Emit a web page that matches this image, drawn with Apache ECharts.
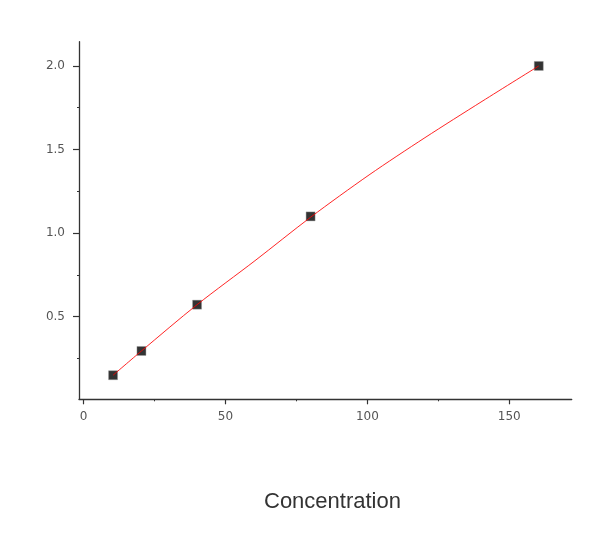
<!DOCTYPE html>
<html>
<head>
<meta charset="utf-8">
<script src="https://cdn.jsdelivr.net/npm/echarts@6/dist/echarts.min.js"></script>
<style>html,body{margin:0;padding:0;background:#fff}#c{width:600px;height:534px}</style>
</head>
<body>
<div id="c"></div>
<script>
// measured standards
var concX = [10.4, 20.4, 40, 80, 160.4];
var absY = [0.15, 0.295, 0.572, 1.10, 2.0];
// fitted curve
var fitX = [10.4, 20.4, 40, 60.4, 80, 100.6, 120.3, 140.4, 160.4];
var fitY = [0.15, 0.295, 0.572, 0.835, 1.095, 1.348, 1.571, 1.788, 2.0];
var xTicks = [0, 50, 100, 150];
var xMinor = [25, 75, 125];
var yTicks = [0.5, 1.0, 1.5, 2.0];
var yMinor = [0.25, 0.75, 1.25, 1.75];
var xName = 'Concentration';

var pts = concX.map(function (x, i) { return [x, absY[i]]; });
var fit = fitX.map(function (x, i) { return [x, fitY[i]]; });
var axisColor = '#333';
var labelStyle = { color: '#555', fontFamily: 'DejaVu Sans', fontSize: 12 };

var chart = echarts.init(document.getElementById('c'), null, { renderer: 'canvas' });
chart.setOption({
  animation: false,
  backgroundColor: '#fff',
  grid: { left: 79, right: 28.3, top: 41.7, bottom: 134.7 },
  xAxis: [{
    type: 'value', min: -1.6, max: 172, position: 'bottom',
    axisLine: { show: true, onZero: false, lineStyle: { color: axisColor, width: 1.3 } },
    axisTick: { show: true, length: 5, inside: false, customValues: xTicks, lineStyle: { color: axisColor, width: 1.2 } },
    axisLabel: { show: true, customValues: xTicks, margin: 12, ...labelStyle,
      formatter: function (v) { return String(v); } },
    splitLine: { show: false }
  }, {
    type: 'value', min: -1.6, max: 172, position: 'bottom', offset: 0,
    axisLine: { show: false, onZero: false },
    axisTick: { show: true, length: 2, customValues: xMinor, lineStyle: { color: axisColor, width: 1 } },
    axisLabel: { show: false },
    splitLine: { show: false }
  }],
  yAxis: [{
    type: 'value', min: 0.006, max: 2.145, position: 'left',
    axisLine: { show: true, onZero: false, lineStyle: { color: axisColor, width: 1.3 } },
    axisTick: { show: true, length: 6, customValues: yTicks, lineStyle: { color: axisColor, width: 1.2 } },
    axisLabel: { show: true, customValues: yTicks, margin: 14, ...labelStyle,
      formatter: function (v) { return v.toFixed(1); } },
    splitLine: { show: false }
  }, {
    type: 'value', min: 0.006, max: 2.145, position: 'left', offset: 0,
    axisLine: { show: false, onZero: false },
    axisTick: { show: true, length: 2, customValues: yMinor, lineStyle: { color: axisColor, width: 1 } },
    axisLabel: { show: false },
    splitLine: { show: false }
  }],
  graphic: [{
    type: 'text', left: 338 - 74, top: 491,
    style: { text: xName, fill: '#333', font: '22px "Liberation Sans", Arial, sans-serif' }
  }],
  series: [{
    type: 'line', data: fit, smooth: 0.3,
    showSymbol: false, symbol: 'none',
    lineStyle: { color: 'rgba(255,0,0,0.85)', width: 1 },
    z: 3
  }, {
    type: 'scatter', data: pts, symbol: 'rect', symbolSize: 9,
    itemStyle: { color: '#000', borderColor: '#999', borderWidth: 0.5 },
    z: 2
  }]
});
</script>
</body>
</html>
